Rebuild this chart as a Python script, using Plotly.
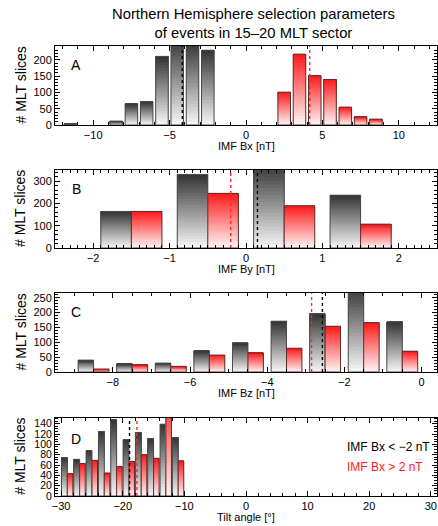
import plotly.graph_objects as go

W, H = 438, 526

# ---------------- data ----------------
# Panel A: IMF Bx histogram
bx_neg_centers = [-11.5, -8.5, -7.5, -6.5, -5.5, -4.5, -3.5, -2.5]
bx_neg_counts = [4, 12, 65, 71, 211, 268, 258, 230]
bx_pos_centers = [2.5, 3.5, 4.5, 5.5, 6.5, 7.5, 8.5]
bx_pos_counts = [101, 218, 152, 140, 55, 25, 18]
bx_mean_neg = -4.17
bx_mean_pos = 4.17

# Panel B: IMF By histogram
by_centers = [-1.5, -0.5, 0.5, 1.5]
by_counts_neg = [164, 330, 380, 237]
by_counts_pos = [164, 245, 189, 107]
by_mean_neg = 0.15
by_mean_pos = -0.20

# Panel C: IMF Bz histogram
bz_centers = [-8.5, -7.5, -6.5, -5.5, -4.5, -3.5, -2.5, -1.5, -0.5]
bz_counts_neg = [40, 27, 30, 71, 98, 171, 196, 290, 169]
bz_counts_pos = [10, 24, 19, 57, 64, 80, 154, 166, 70]
bz_mean_neg = -2.57
bz_mean_pos = -2.85

# Panel D: tilt angle histogram
tilt_centers = [-29, -27, -25, -23, -21, -19, -17, -15, -13, -11]
tilt_counts_neg = [74, 71, 88, 125, 148, 109, 123, 111, 139, 113]
tilt_counts_pos = [43, 63, 69, 44, 57, 67, 80, 73, 200, 68]
tilt_mean_neg = -18.9
tilt_mean_pos = -17.7

title_lines = ["Northern Hemisphere selection parameters", "of events in 15\u201320 MLT sector"]
panel_letters = ["A", "B", "C", "D"]
x_titles = ["IMF Bx [nT]", "IMF By [nT]", "IMF Bz [nT]", "Tilt angle [\u00b0]"]
y_title = "# MLT slices"
legend_labels = ["IMF Bx < \u22122 nT", "IMF Bx > 2 nT"]

# ---------------- style ----------------
FONT = "Liberation Sans, Arial, Helvetica, sans-serif"
BLACK_TOP = (50, 50, 50)
BLACK_BOT = (248, 248, 248)
RED_TOP = (255, 25, 25)
RED_BOT = (255, 246, 246)
BLACK_EDGE = "#4a4a4a"
RED_EDGE = "#5a2c2c"
NSEG = 24

# panel pixel boxes (top, bottom)
X0, X1 = 55, 437
boxes = [(46, 125), (170, 248), (293, 372), (417.5, 496)]


def py(p):
    return 1 - p / H


def px(p):
    return p / W


fig = go.Figure()


def add_hist(axn, xs, vals, top, bot, edge, width, offset):
    xa = "x" if axn == 1 else f"x{axn}"
    ya = "y" if axn == 1 else f"y{axn}"
    for k in range(NSEG):
        t = (k + 0.5) / NSEG
        c = tuple(round(bot[i] + (top[i] - bot[i]) * t) for i in range(3))
        base = [v * k / NSEG for v in vals]
        hgt = [v - b for v, b in zip(vals, base)]
        fig.add_trace(go.Bar(
            x=xs, y=hgt, base=base, width=width, offset=offset,
            marker=dict(color=f"rgb{c}", line=dict(width=0)),
            xaxis=xa, yaxis=ya, showlegend=False, hoverinfo="skip"))
    fig.add_trace(go.Bar(
        x=xs, y=vals, width=width, offset=offset,
        marker=dict(color="rgba(0,0,0,0)", line=dict(width=1, color=edge)),
        xaxis=xa, yaxis=ya, showlegend=False, hoverinfo="skip"))


# Panel A
add_hist(1, bx_neg_centers, bx_neg_counts, BLACK_TOP, BLACK_BOT, BLACK_EDGE, 0.82, -0.41)
add_hist(1, bx_pos_centers, bx_pos_counts, RED_TOP, RED_BOT, RED_EDGE, 0.82, -0.41)
# Panel B
add_hist(2, by_centers, by_counts_neg, BLACK_TOP, BLACK_BOT, BLACK_EDGE, 0.4, -0.4)
add_hist(2, by_centers, by_counts_pos, RED_TOP, RED_BOT, RED_EDGE, 0.4, 0.0)
# Panel C
add_hist(3, bz_centers, bz_counts_neg, BLACK_TOP, BLACK_BOT, BLACK_EDGE, 0.4, -0.4)
add_hist(3, bz_centers, bz_counts_pos, RED_TOP, RED_BOT, RED_EDGE, 0.4, 0.0)
# Panel D
add_hist(4, tilt_centers, tilt_counts_neg, BLACK_TOP, BLACK_BOT, BLACK_EDGE, 0.95, -0.95)
add_hist(4, tilt_centers, tilt_counts_pos, RED_TOP, RED_BOT, RED_EDGE, 0.9, 0.0)

means = [(bx_mean_neg, bx_mean_pos), (by_mean_neg, by_mean_pos),
         (bz_mean_neg, bz_mean_pos), (tilt_mean_neg, tilt_mean_pos)]
shapes = []
for i, (mn, mp) in enumerate(means):
    xr = "x" if i == 0 else f"x{i+1}"
    yr = "y domain" if i == 0 else f"y{i+1} domain"
    shapes.append(dict(type="line", xref=xr, yref=yr, x0=mn, x1=mn, y0=0, y1=1,
                       line=dict(color="black", width=1.4, dash="dot")))
    shapes.append(dict(type="line", xref=xr, yref=yr, x0=mp, x1=mp, y0=0, y1=1,
                       line=dict(color="#ff2a2a", width=1.4, dash="dot")))

xcfg = [
    dict(range=[-12.5, 12.5], dtick=5, tick0=0, minor=dict(dtick=1)),
    dict(range=[-2.5, 2.5], dtick=1, tick0=0, minor=dict(dtick=0.1)),
    dict(range=[-9.5, 0.4], dtick=2, tick0=0, minor=dict(dtick=0.5)),
    dict(range=[-31, 31], dtick=10, tick0=0, minor=dict(dtick=2)),
]
ycfg = [
    dict(range=[0, 243], dtick=50, tick0=0, minor=dict(dtick=10)),
    dict(range=[0, 350], dtick=100, tick0=0, minor=dict(dtick=20)),
    dict(range=[0, 266], dtick=50, tick0=0, minor=dict(dtick=10)),
    dict(range=[0, 152], dtick=20, tick0=0, minor=dict(dtick=5)),
]

common = dict(showline=True, linecolor="black", linewidth=1, mirror="allticks",
              ticks="inside", ticklen=5, tickcolor="black", tickwidth=1,
              showgrid=False, zeroline=False, automargin=False,
              tickfont=dict(family=FONT, size=11, color="black"))

layout = dict(width=W, height=H, margin=dict(l=0, r=0, t=0, b=0, autoexpand=False),
              paper_bgcolor="white", plot_bgcolor="white",
              barmode="overlay", shapes=shapes, showlegend=False)

annotations = []
for i, (t, b) in enumerate(boxes):
    xc = dict(common); xc.update(xcfg[i])
    xc["minor"] = dict(xc["minor"], ticks="inside", ticklen=3, tickcolor="black")
    yc = dict(common); yc.update(ycfg[i])
    yc["minor"] = dict(yc["minor"], ticks="inside", ticklen=3, tickcolor="black")
    if i == 3:
        yc["tickfont"] = dict(family=FONT, size=10.5, color="black")
    xn = "xaxis" if i == 0 else f"xaxis{i+1}"
    yn = "yaxis" if i == 0 else f"yaxis{i+1}"
    xc["domain"] = [px(X0), px(X1)]
    xc["anchor"] = "y" if i == 0 else f"y{i+1}"
    yc["domain"] = [py(b), py(t)]
    yc["anchor"] = "x" if i == 0 else f"x{i+1}"
    layout[xn] = xc
    layout[yn] = yc
    # panel letter
    annotations.append(dict(text=panel_letters[i], x=px(76), y=py(t + (19 if i != 3 else 21)),
                            xref="paper", yref="paper", showarrow=False,
                            xanchor="center", yanchor="middle",
                            font=dict(family=FONT, size=14, color="black")))
    # x title
    annotations.append(dict(text=x_titles[i], x=px((X0 + X1) / 2), y=py(b + 21),
                            xref="paper", yref="paper", showarrow=False,
                            xanchor="center", yanchor="middle",
                            font=dict(family=FONT, size=11, color="black")))
    # y title
    annotations.append(dict(text=y_title, x=px(20), y=py((t + b) / 2),
                            xref="paper", yref="paper", showarrow=False, textangle=-90,
                            xanchor="center", yanchor="middle",
                            font=dict(family=FONT, size=14, color="black")))

annotations.append(dict(text="<br>".join(title_lines), x=px(253), y=py(24),
                        xref="paper", yref="paper", showarrow=False,
                        xanchor="center", yanchor="middle",
                        font=dict(family=FONT, size=14.8, color="black")))
annotations.append(dict(text=legend_labels[0], x=px(345), y=py(447),
                        xref="paper", yref="paper", showarrow=False,
                        xanchor="left", yanchor="middle",
                        font=dict(family=FONT, size=12, color="black")))
annotations.append(dict(text=legend_labels[1], x=px(345), y=py(467),
                        xref="paper", yref="paper", showarrow=False,
                        xanchor="left", yanchor="middle",
                        font=dict(family=FONT, size=12, color="#ff1a1a")))
layout["annotations"] = annotations

fig.update_layout(**layout)
fig.write_html("out.html", config={"displayModeBar": False},
               post_script="document.body.style.margin='0';document.body.style.padding='0';")
